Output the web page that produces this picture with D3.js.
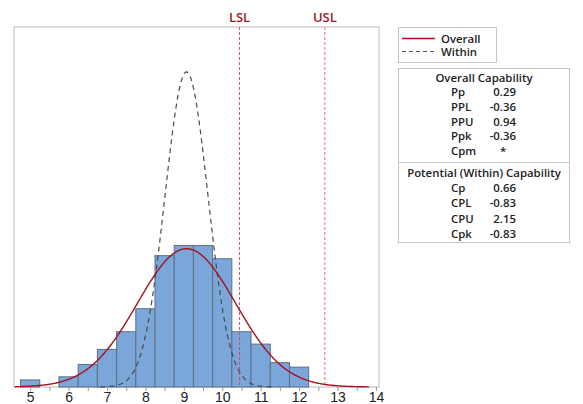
<!DOCTYPE html>
<html>
<head>
<meta charset="utf-8">
<script src="https://cdn.jsdelivr.net/npm/d3@7"></script>
<style>
  body { margin: 0; background: #fff; }
  svg { font-family: "Open Sans", "Noto Sans", sans-serif; }
</style>
</head>
<body>
<div id="chart"></div>
<script>
// bin centres (width 0.5) and bar heights (density)
const binCenters = [5, 5.5, 6, 6.5, 7, 7.5, 8, 8.5, 9, 9.5, 10, 10.5, 11, 11.5, 12];
const binDensity = [0.016, 0, 0.023, 0.051, 0.085, 0.125, 0.177, 0.297, 0.32, 0.32, 0.29, 0.125, 0.097, 0.055, 0.045];
const binWidth = 0.5;

// process stats
const mean = 9.07;
const sdOverall = 1.276;
const sdWithin = 0.56;
const LSL = 10.45;
const USL = 12.67;

const xTicks = [5, 6, 7, 8, 9, 10, 11, 12, 13, 14];

const overallNames = ["Pp", "PPL", "PPU", "Ppk", "Cpm"];
const overallValues = ["0.29", "-0.36", "0.94", "-0.36", "*"];
const withinNames = ["Cp", "CPL", "CPU", "Cpk"];
const withinValues = ["0.66", "-0.83", "2.15", "-0.83"];

const W = 583, H = 404;
const margin = {top: 27, left: 14, right: 204, bottom: 17};
const width = W - margin.left - margin.right;
const height = H - margin.top - margin.bottom;

const svg = d3.select("#chart").append("svg")
    .attr("width", W)
    .attr("height", H);

const x = d3.scaleLinear().domain([4.58, 14.08]).range([margin.left, margin.left + width]);
const y = d3.scaleLinear().domain([0, 0.814]).range([margin.top + height, margin.top]);

// frame
svg.append("rect")
    .attr("x", margin.left).attr("y", margin.top)
    .attr("width", width).attr("height", height)
    .attr("fill", "#fff").attr("stroke", "#c6c6c6").attr("stroke-width", 1.2);

// bars
svg.selectAll(".bar")
    .data(binCenters.map((c, i) => ({c: c, d: binDensity[i]})).filter(b => b.d > 0))
    .enter().append("rect")
    .attr("class", "bar")
    .attr("x", b => x(b.c - binWidth / 2))
    .attr("y", b => y(b.d))
    .attr("width", b => x(b.c + binWidth / 2) - x(b.c - binWidth / 2))
    .attr("height", b => y(0) - y(b.d))
    .attr("fill", "#7ba6d9")
    .attr("stroke", "#5f6f84")
    .attr("stroke-width", 1);

// spec lines
svg.append("line")
    .attr("x1", x(LSL)).attr("x2", x(LSL))
    .attr("y1", margin.top).attr("y2", margin.top + height)
    .attr("stroke", "#dc3c48").attr("stroke-width", 0.9)
    .attr("stroke-dasharray", "3,2");
svg.append("line")
    .attr("x1", x(USL)).attr("x2", x(USL))
    .attr("y1", margin.top).attr("y2", margin.top + height)
    .attr("stroke", "#f19a9a").attr("stroke-width", 1.5)
    .attr("stroke-dasharray", "3,2");

svg.append("text").attr("x", x(LSL)).attr("y", 22)
    .attr("text-anchor", "middle").attr("fill", "#9b1b2a")
    .style("font-size", "13px").style("font-weight", 600).text("LSL");
svg.append("text").attr("x", x(USL)).attr("y", 22)
    .attr("text-anchor", "middle").attr("fill", "#9b1b2a")
    .style("font-size", "13px").style("font-weight", 600).text("USL");

// normal curves
function pdf(v, m, s) {
  return Math.exp(-0.5 * Math.pow((v - m) / s, 2)) / (s * Math.sqrt(2 * Math.PI));
}
const line = d3.line().x(p => x(p[0])).y(p => y(p[1]));

const withinPts = d3.range(mean - 4 * sdWithin, mean + 4 * sdWithin + 0.001, 0.02).map(v => [v, pdf(v, mean, sdWithin)]);
svg.append("path")
    .datum(withinPts)
    .attr("d", line)
    .attr("fill", "none")
    .attr("stroke", "#4a4a4a")
    .attr("stroke-width", 1.2)
    .attr("stroke-dasharray", "5,4");

const overallPts = d3.range(4.6, 13.84, 0.02).map(v => [v, pdf(v, mean, sdOverall)]);
svg.append("path")
    .datum(overallPts)
    .attr("d", line)
    .attr("fill", "none")
    .attr("stroke", "#a3121e")
    .attr("stroke-width", 1.4);

// x axis
const xAxis = d3.axisBottom(x)
    .tickValues(d3.range(5, 14.01, 0.5))
    .tickSize(4)
    .tickFormat(d => Number.isInteger(d) ? d : "");
const gx = svg.append("g")
    .attr("transform", "translate(0," + (margin.top + height) + ")")
    .call(xAxis);
gx.select(".domain").remove();
gx.selectAll(".tick line").attr("stroke", "#999");
gx.selectAll(".tick text")
    .attr("fill", "#222")
    .attr("dy", "0.72em")
    .attr("y", 5)
    .style("font-size", "14px");

// legend
const lg = svg.append("g").style("font-size", "11.4px").style("font-weight", 600).attr("fill", "#222");
lg.append("rect").attr("x", 398.5).attr("y", 27.5).attr("width", 98).attr("height", 35)
    .attr("fill", "#fff").attr("stroke", "#c6c6c6");
lg.append("line").attr("x1", 402).attr("x2", 435).attr("y1", 38.5).attr("y2", 38.5)
    .attr("stroke", "#a3121e").attr("stroke-width", 1.4);
lg.append("line").attr("x1", 402).attr("x2", 435).attr("y1", 51.5).attr("y2", 51.5)
    .attr("stroke", "#555").attr("stroke-width", 1.1).attr("stroke-dasharray", "4,3");
lg.append("text").attr("x", 441).attr("y", 42.5).text("Overall");
lg.append("text").attr("x", 441).attr("y", 56).text("Within");

// stats box
const sb = svg.append("g").style("font-size", "11.4px").style("font-weight", 600).attr("fill", "#222");
sb.append("rect").attr("x", 398.5).attr("y", 68.5).attr("width", 171).attr("height", 174)
    .attr("fill", "#fff").attr("stroke", "#c6c6c6");
sb.append("line").attr("x1", 398.5).attr("x2", 569.5).attr("y1", 162.5).attr("y2", 162.5)
    .attr("stroke", "#c6c6c6");
sb.append("text").attr("x", 484).attr("y", 82).attr("text-anchor", "middle").text("Overall Capability");
sb.append("text").attr("x", 484).attr("y", 177).attr("text-anchor", "middle").text("Potential (Within) Capability");

const rowY1 = d3.scalePoint().domain(overallNames).range([96, 155]);
sb.selectAll(".on").data(overallNames).enter().append("text")
    .attr("x", 451).attr("y", d => rowY1(d)).text(d => d);
sb.selectAll(".ov").data(overallValues).enter().append("text")
    .attr("x", (d, i) => d === "*" ? 503 : 516)
    .attr("y", (d, i) => rowY1(overallNames[i]))
    .attr("text-anchor", d => d === "*" ? "middle" : "end")
    .text(d => d);

const rowY2 = d3.scalePoint().domain(withinNames).range([192, 238]);
sb.selectAll(".wn").data(withinNames).enter().append("text")
    .attr("x", 451).attr("y", d => rowY2(d)).text(d => d);
sb.selectAll(".wv").data(withinValues).enter().append("text")
    .attr("x", 516)
    .attr("y", (d, i) => rowY2(withinNames[i]))
    .attr("text-anchor", "end")
    .text(d => d);
</script>
</body>
</html>
